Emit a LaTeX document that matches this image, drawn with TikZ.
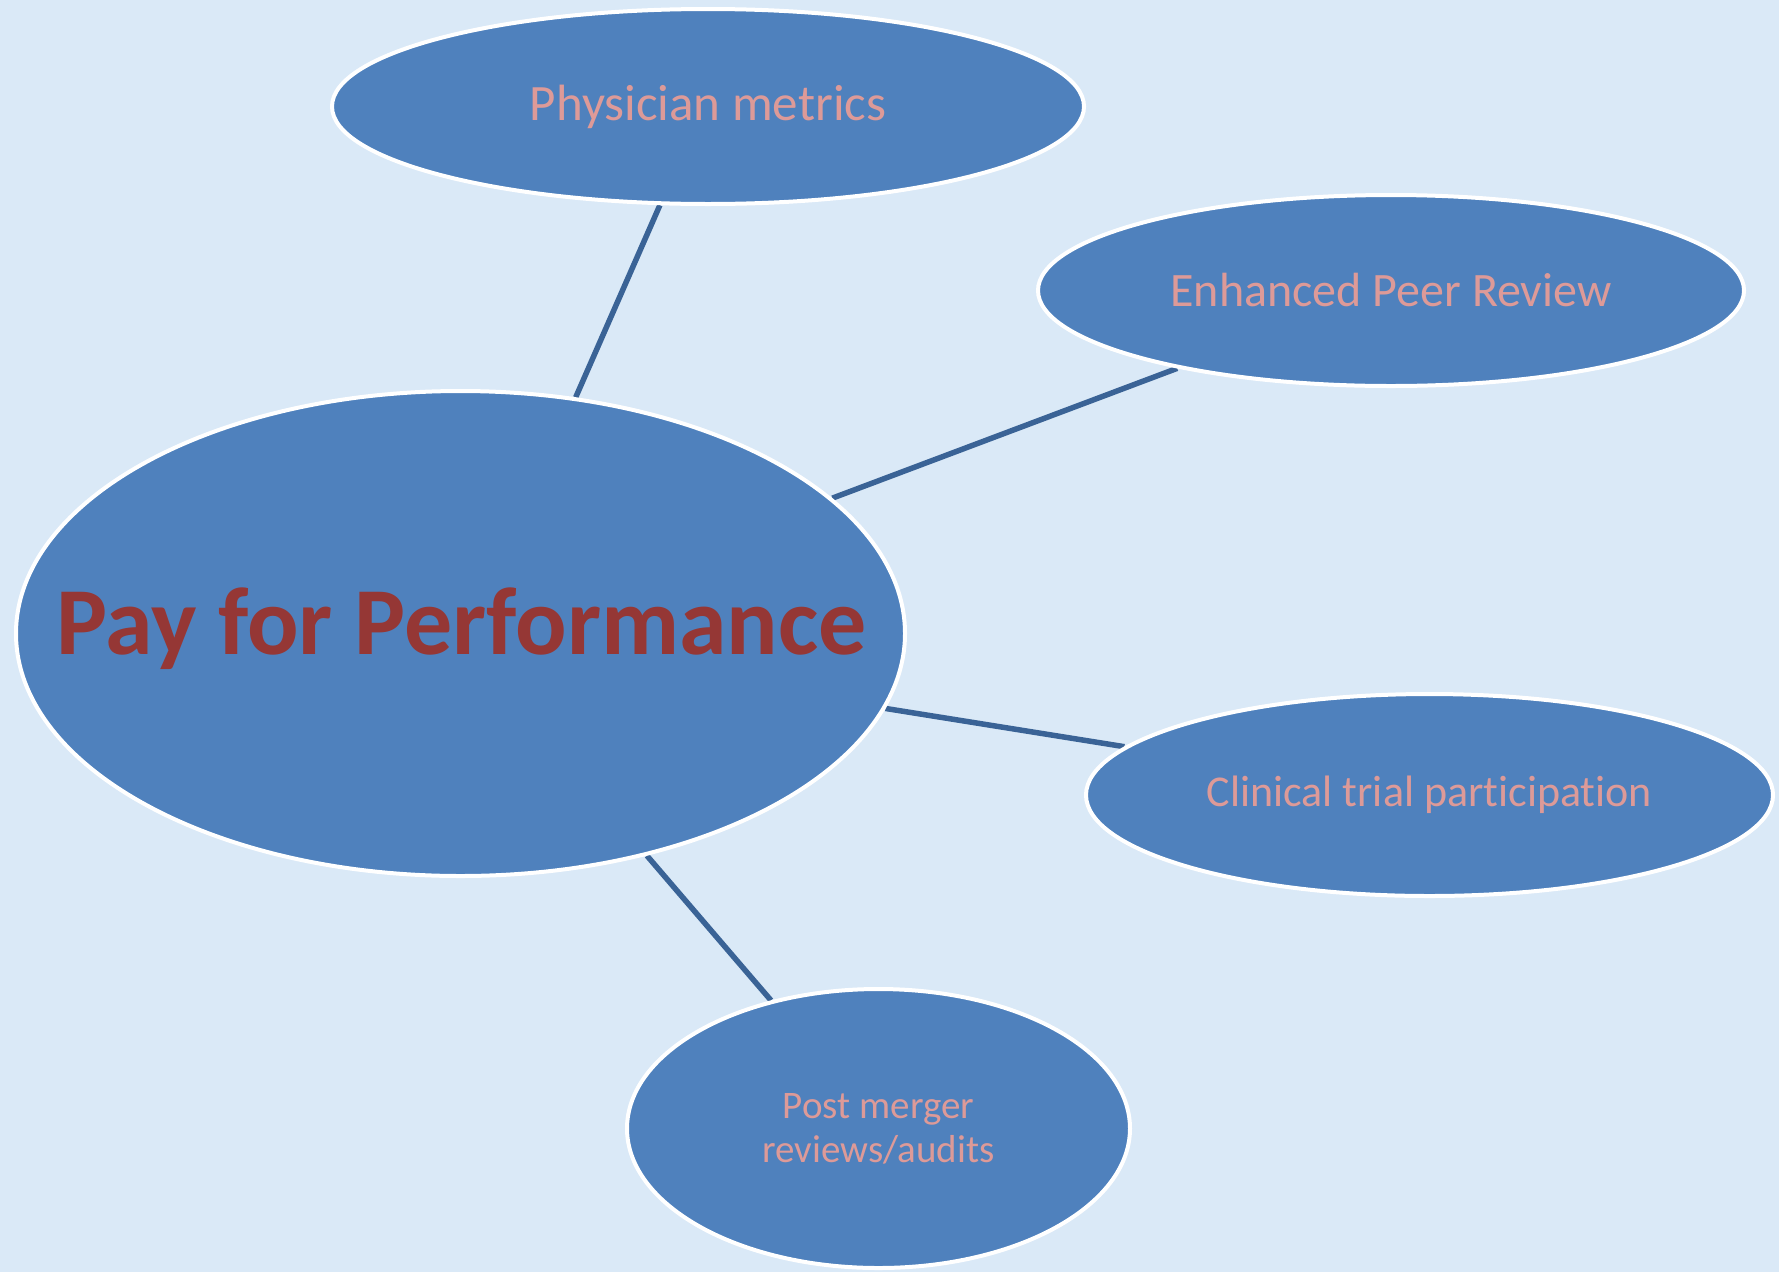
\documentclass[tikz,border=0pt]{standalone}
\usepackage{fontspec}
\setmainfont[Ligatures=NoCommon]{Carlito}
\usetikzlibrary{shapes.geometric}
\definecolor{paper}{HTML}{DAE9F7}
\definecolor{bubble}{HTML}{4F81BD}
\definecolor{link}{HTML}{3A6396}
\definecolor{label}{HTML}{DD9A98}
\definecolor{title}{HTML}{953735}
\pgfdeclarelayer{back}
\pgfdeclarelayer{links}
\pgfsetlayers{back,links,main}
\tikzset{
  bubble/.style={ellipse, fill=bubble, draw=white, line width=4pt, inner sep=0pt},
  caption/.style={align=center, text=label, inner sep=0pt},
  link/.style={draw=link, line width=5.5pt},
}
\begin{document}
\begin{tikzpicture}[x=1pt,y=-1pt]
\begin{pgfonlayer}{back}
  \fill[paper] (0,0) rectangle (1779,1272);
\end{pgfonlayer}
\useasboundingbox (0,0) rectangle (1779,1272);

% bubbles
\node[bubble, minimum width=752pt, minimum height=195pt] (pm) at (708,106.5) {};
\node[bubble, minimum width=706pt, minimum height=191pt] (epr) at (1391,290.5) {};
\node[bubble, minimum width=889pt, minimum height=485pt] (pfp) at (460.5,633.5) {};
\node[bubble, minimum width=687pt, minimum height=202pt] (ctp) at (1429.5,795) {};
\node[bubble, minimum width=503pt, minimum height=279pt] (pmr) at (878.5,1128.5) {};

% captions
\node[caption, font=\fontsize{51}{61}\selectfont] (pm-text) at (pm.center) {Physician metrics};
\node[caption, font=\fontsize{48}{58}\selectfont] (epr-text) at (epr.center) {Enhanced Peer Review};
\node[caption, text=title, font=\fontsize{96}{115}\bfseries\selectfont] (pfp-text) at ([xshift=1pt,yshift=5pt]pfp.center) {Pay for Performance};
\node[caption, font=\fontsize{44}{53}\selectfont] (ctp-text) at (ctp.center) {Clinical trial participation};
\node[caption, font=\fontsize{39}{44}\selectfont] (pmr-text) at (pmr.center) {Post merger\\reviews/audits};

% connectors
\begin{pgfonlayer}{links}
  \draw[link] (pfp.64.7) -- (pm.244.5);
  \draw[link] (pfp.20.2) -- (epr.200.35);
  \draw[link] (pfp.350.6) -- (ctp.171);
  \draw[link] (pfp.310) -- (pmr.130.4);
\end{pgfonlayer}
\end{tikzpicture}
\end{document}
